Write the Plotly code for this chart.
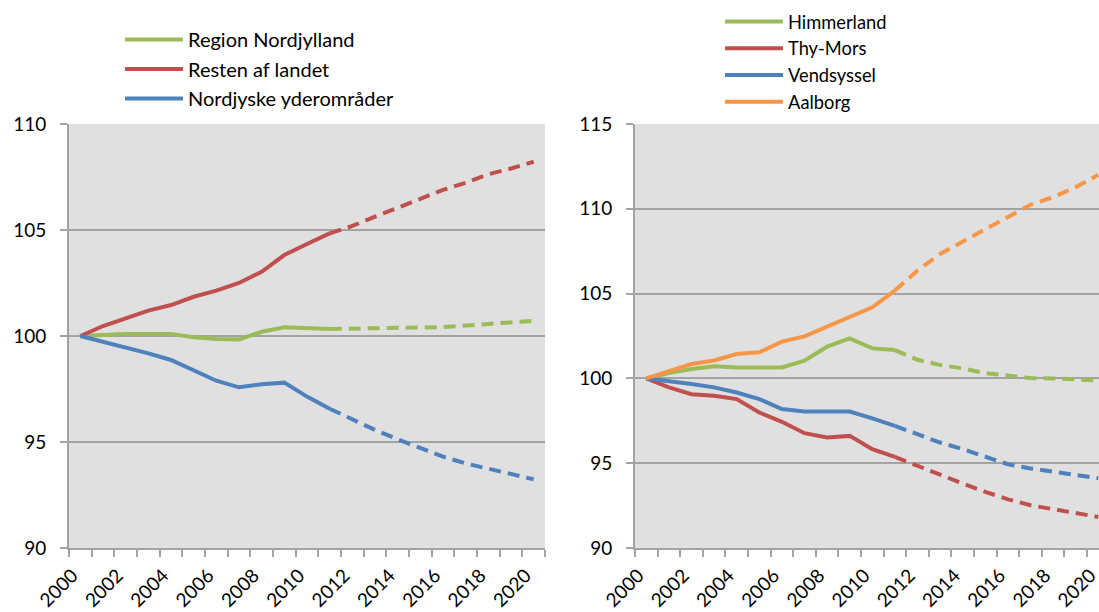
import plotly.graph_objects as go

years = list(range(2000, 2021))
split_year = 2011
tick_years = list(range(2000, 2021, 2))

# Left panel (index, 2000 = 100)
left_names = ["Region Nordjylland", "Resten af landet", "Nordjyske yderområder"]
region_nordjylland = [100.0, 100.05, 100.1, 100.1, 100.1, 99.94, 99.86, 99.84, 100.2, 100.41, 100.35,
                      100.33, 100.35, 100.39, 100.41, 100.41, 100.42, 100.49, 100.57, 100.64, 100.72]
resten_af_landet = [100.0, 100.47, 100.83, 101.2, 101.46, 101.85, 102.14, 102.5, 103.03, 103.82, 104.34,
                    104.84, 105.19, 105.63, 106.05, 106.5, 106.89, 107.23, 107.63, 107.9, 108.22]
nordjyske_yderomraader = [100.0, 99.73, 99.47, 99.18, 98.87, 98.36, 97.89, 97.58, 97.72, 97.8, 97.14,
                          96.57, 96.07, 95.57, 95.13, 94.7, 94.31, 93.99, 93.73, 93.49, 93.24]

# Right panel
right_names = ["Himmerland", "Thy-Mors", "Vendsyssel", "Aalborg"]
himmerland = [100.0, 100.31, 100.55, 100.71, 100.65, 100.65, 100.65, 101.04, 101.87, 102.36, 101.77,
              101.67, 101.1, 100.79, 100.59, 100.31, 100.16, 100.02, 100.0, 99.92, 99.88]
thy_mors = [100.0, 99.47, 99.07, 98.98, 98.78, 97.99, 97.44, 96.77, 96.52, 96.61, 95.83,
            95.37, 94.84, 94.29, 93.8, 93.31, 92.87, 92.52, 92.28, 92.09, 91.83]
vendsyssel = [100.0, 99.86, 99.67, 99.47, 99.17, 98.78, 98.19, 98.05, 98.05, 98.05, 97.64,
              97.2, 96.71, 96.22, 95.83, 95.37, 94.94, 94.69, 94.49, 94.29, 94.11]
aalborg = [100.0, 100.45, 100.85, 101.06, 101.44, 101.54, 102.17, 102.48, 103.07, 103.6, 104.19,
           105.18, 106.36, 107.34, 108.07, 108.76, 109.5, 110.24, 110.69, 111.28, 112.0]

GREEN = "#9BBB59"
RED = "#C0504D"
BLUE = "#4F81BD"
ORANGE = "#F79646"

FONT = "Lato, 'Open Sans', sans-serif"
GRID = "#a3a3a3"
BG = "#e0e0e0"
LW = 4
DASH = "12px,7px"

fig = go.Figure()


def add_series(name, values, color, xa, ya, legend):
    k = years.index(split_year)
    fig.add_trace(go.Scatter(
        x=years[:k + 1], y=values[:k + 1], name=name, mode="lines",
        line=dict(color=color, width=LW), xaxis=xa, yaxis=ya, legend=legend,
        legendgroup=legend + name, hoverinfo="x+y+name"))
    fig.add_trace(go.Scatter(
        x=years[k:], y=values[k:], name=name, mode="lines",
        line=dict(color=color, width=LW, dash=DASH), xaxis=xa, yaxis=ya, legend=legend,
        legendgroup=legend + name, showlegend=False, hoverinfo="x+y+name"))


for n, v, c in zip(left_names, [region_nordjylland, resten_af_landet, nordjyske_yderomraader],
                   [GREEN, RED, BLUE]):
    add_series(n, v, c, "x", "y", "legend")

for n, v, c in zip(right_names, [himmerland, thy_mors, vendsyssel, aalborg],
                   [GREEN, RED, BLUE, ORANGE]):
    add_series(n, v, c, "x2", "y2", "legend2")

W, H = 1099, 612
ytop, ybot = 124, 548
ydom = [1 - ybot / H, 1 - ytop / H]

xaxis_common = dict(
    tickmode="array", tickvals=tick_years, ticktext=[str(t) for t in tick_years],
    tickangle=-45, ticks="", showgrid=False, zeroline=False, automargin=False,
    showline=True, linecolor=GRID, linewidth=2,
    tickfont=dict(family=FONT, size=19, color="black"),
    ticklabelshift=-8, ticklabelstandoff=7, ticklabeloverflow="allow",
    minor=dict(tickmode="linear", tick0=1999.5, dtick=1, ticks="outside", ticklen=7,
               tickcolor=GRID, tickwidth=2, showgrid=False),
)
yaxis_common = dict(
    tickmode="linear", dtick=5, ticks="outside", ticklen=7, tickcolor=GRID, tickwidth=2,
    showgrid=True, gridcolor=GRID, gridwidth=2, zeroline=False, automargin=False,
    showline=True, linecolor=GRID, linewidth=2,
    tickfont=dict(family=FONT, size=19, color="black"),
    ticklabelstandoff=10,
)

fig.update_layout(
    width=W, height=H,
    margin=dict(l=0, r=0, t=0, b=0, autoexpand=False),
    paper_bgcolor="white", plot_bgcolor=BG,
    font=dict(family=FONT, size=19, color="black"),
    showlegend=True,
    xaxis=dict(domain=[69 / W, 545 / W], range=[1999.5, 2020.5], anchor="y", **xaxis_common),
    yaxis=dict(domain=ydom, range=[90, 110], anchor="x", **yaxis_common),
    xaxis2=dict(domain=[635 / W, 1.0], range=[1999.5, 2020.03], anchor="y2", **xaxis_common),
    yaxis2=dict(domain=ydom, range=[90, 115], anchor="x2", **yaxis_common),
    legend=dict(x=120 / W, y=1 - 20 / H, xanchor="left", yanchor="top",
                bgcolor="rgba(0,0,0,0)", itemwidth=58, tracegroupgap=0.5,
                font=dict(family=FONT, size=20, color="black")),
    legend2=dict(x=720 / W, y=1 - 3 / H, xanchor="left", yanchor="top",
                 bgcolor="rgba(0,0,0,0)", itemwidth=58, tracegroupgap=0,
                 font=dict(family=FONT, size=18.3, color="black")),
)

fig.write_html("out.html", config={"displayModeBar": False},
               post_script="document.body.style.margin='0';")
